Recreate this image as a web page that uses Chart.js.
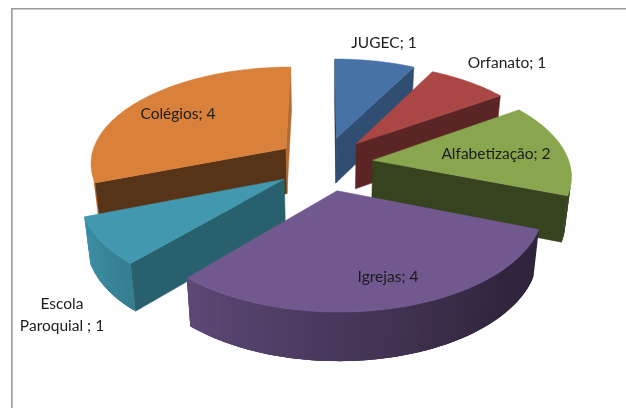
<!DOCTYPE html>
<html><head><meta charset="utf-8">
<style>html,body{margin:0;padding:0;background:#fff}canvas{display:block;filter:blur(0.45px)}</style>
<script src="https://cdn.jsdelivr.net/npm/chart.js@4"></script>
</head><body>
<canvas id="c" width="626" height="408"></canvas>
<script>
const categories = ['JUGEC', 'Orfanato', 'Alfabetização', 'Igrejas', ['Escola', 'Paroquial '], 'Colégios'];
const values = [1, 1, 2, 4, 1, 4];
const colors = ['#4672A7', '#AA4643', '#89A54E', '#71588F', '#4198AF', '#D9813A'];

function shade(hex, f) {
  const n = parseInt(hex.slice(1), 16);
  return `rgb(${Math.round((n >> 16) * f)},${Math.round(((n >> 8) & 255) * f)},${Math.round((n & 255) * f)})`;
}

const pie3d = {
  id: 'pie3d',
  beforeDraw(chart, _a, o) {
    const { ctx } = chart;
    ctx.save();
    ctx.fillStyle = '#fefefe';
    ctx.fillRect(0, 0, chart.width, chart.height);
    ctx.strokeStyle = '#9a9a9a';
    ctx.lineWidth = 1.6;
    ctx.beginPath();
    ctx.moveTo(11.8, chart.height);
    ctx.lineTo(11.8, 8.8);
    ctx.lineTo(chart.width, 8.8);
    ctx.stroke();
    ctx.restore();
  },
  beforeDatasetDraw(chart, args, o) {
    const { ctx } = chart;
    const arcs = chart.getDatasetMeta(args.index).data;
    const cx = arcs[0].x, cy = arcs[0].y, r = arcs[0].outerRadius;
    const Sx = r * o.xScale, Sy = r * o.yScale;
    const top = (u, v) => {
      const d = 1 + o.persp * v;
      return [cx + Sx * u / d, cy - Sy * v / d];
    };
    const low = p => {
      const depth = o.depth + (p[1] - o.depthRef) * o.depthGrow;
      return [cx + (p[0] - cx) * o.converge, p[1] + depth];
    };
    const poly = (pts, fill, stroke) => {
      ctx.beginPath();
      pts.forEach((p, i) => i ? ctx.lineTo(p[0], p[1]) : ctx.moveTo(p[0], p[1]));
      ctx.closePath();
      ctx.fillStyle = fill;
      ctx.fill();
      if (stroke) {
        ctx.strokeStyle = fill;
        ctx.lineWidth = 0.5;
        ctx.stroke();
      }
    };
    const area = q => q.reduce((s, p, i) => {
      const n = q[(i + 1) % q.length];
      return s + p[0] * n[1] - n[0] * p[1];
    }, 0);
    o.order.forEach(i => {
      const a = arcs[i];
      const t0 = a.startAngle + Math.PI / 2, t1 = a.endAngle + Math.PI / 2;
      const m = (t0 + t1) / 2;
      const ax = o.explodeX * Math.sin(m), ay = o.explodeY * Math.cos(m);
      const at = t => top(ax + Math.sin(t), ay + Math.cos(t));
      const apex = top(ax, ay);
      const steps = Math.max(4, Math.round((t1 - t0) * 180 / Math.PI));
      const rim = [];
      for (let k = 0; k <= steps; k++) rim.push(t0 + (t1 - t0) * k / steps);
      // outer wall: each strip overlaps the next one so no seams appear
      for (let k = steps - 1; k >= 0; k--) {
        const A = at(rim[k]), B = at(rim[k + 1]);
        const deg = (rim[k] + rim[k + 1]) / 2 * 180 / Math.PI;
        if (area([A, B, low(B), low(A)]) < 0 && deg < o.wallUntil) {
          const f = Math.min(0.97, Math.max(o.shadeMin, o.shadeMin + (deg - o.shadeFrom) * o.shadeRate));
          const C = at(rim[Math.min(steps, k + 3)]);
          poly([A, B, C, low(C), low(B), low(A)], shade(colors[i], f));
        }
      }
      // radial walls
      const A0 = at(t0), A1 = at(t1);
      const q0 = [apex, A0, low(A0), low(apex)];
      const q1 = [apex, A1, low(A1), low(apex)];
      if (area(q0) < 0) poly(q0, shade(colors[i], o.startShade[i]), true);
      if (area(q1) > 0) poly(q1, shade(colors[i], o.endShade[i]), true);
      // top face
      poly([apex, ...rim.map(at)], colors[i], true);
    });
    return false;
  },
  afterDatasetsDraw(chart, _a, o) {
    const { ctx } = chart;
    ctx.save();
    ctx.font = o.font;
    ctx.fillStyle = o.textColor;
    ctx.textAlign = 'center';
    ctx.textBaseline = 'middle';
    chart.data.labels.forEach((lab, i) => {
      const val = chart.data.datasets[0].data[i];
      const lines = Array.isArray(lab) ? lab : [lab];
      const [x, y] = o.anchors[i];
      lines.forEach((ln, k) => {
        const text = k === lines.length - 1 ? `${ln}; ${val}` : ln;
        ctx.fillText(text, x, y + k * o.lineHeight);
      });
    });
    ctx.restore();
  }
};

new Chart(document.getElementById('c'), {
  type: 'pie',
  data: { labels: categories, datasets: [{ data: values, backgroundColor: colors, borderWidth: 0 }] },
  plugins: [pie3d],
  options: {
    responsive: false,
    animation: false,
    layout: { padding: { left: 24, bottom: 81 } },
    plugins: {
      legend: { display: false },
      tooltip: { enabled: false },
      pie3d: {
        xScale: 1.203, yScale: 0.59, persp: 0.137,
        explodeX: 0.246, explodeY: 0.28,
        depth: 43, depthRef: 60, depthGrow: 0.024, converge: 0.975,
        order: [0, 1, 5, 2, 4, 3],
        wallUntil: 250,
        startShade: [0.35, 0.53, 0.4, 0.4, 0.63, 0.4],
        endShade: [0.68, 0.53, 0.4, 0.4, 0.63, 0.82],
        shadeMin: 0.42, shadeFrom: 130, shadeRate: 0.0045,
        font: '15.5px Lato', textColor: '#1c1c1c', lineHeight: 22,
        anchors: [[384, 43], [507, 63], [496, 154], [388, 277], [62, 304], [178, 114]]
      }
    }
  }
});
</script>
</body></html>
